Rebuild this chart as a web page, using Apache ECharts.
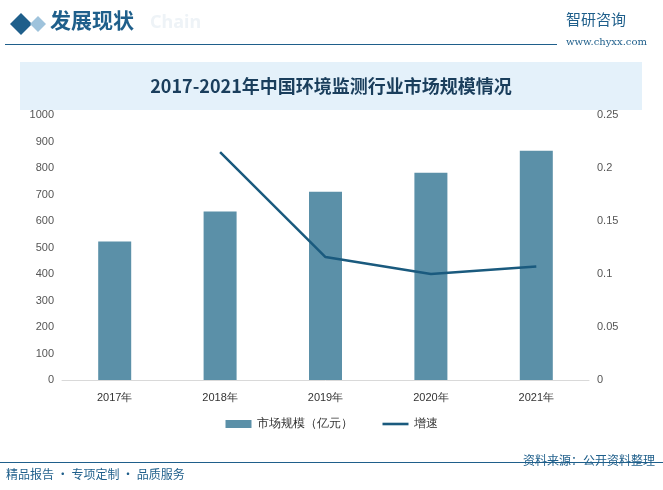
<!DOCTYPE html>
<html><head><meta charset="utf-8">
<script src="https://cdn.jsdelivr.net/npm/echarts@6/dist/echarts.min.js"></script>
<style>html,body{margin:0;padding:0;background:#fff}#c{width:663px;height:490px}</style>
</head><body><div id="c"></div>
<script>
const categories = ['2017年','2018年','2019年','2020年','2021年'];
const marketSize = [523, 636, 710, 782, 865];
const growth = [null, 0.215, 0.116, 0.100, 0.107];
const leftTicks = [0,1000,100];
const chart = echarts.init(document.getElementById('c'));
chart.setOption({
  backgroundColor:'#fff',
  graphic:[
    {type:'text',x:150,y:14,style:{text:'Chain',font:'bold 18px "Noto Sans"',fill:'#eef3f7'}},
    {type:'polygon',shape:{points:[[10,24],[21,13],[32,24],[21,35]]},style:{fill:'#1f5f8b'}},
    {type:'polygon',shape:{points:[[30,24],[38,16],[46,24],[38,32]]},style:{fill:'#9fc3dc'}},
    {type:'text',x:50,y:10,style:{text:'发展现状',font:'bold 21px "Noto Sans CJK SC"',fill:'#1f5f8b'}},
    {type:'rect',shape:{x:5,y:44,width:552,height:1},style:{fill:'#1f5f8b'}},
    {type:'text',x:566,y:12,style:{text:'智研咨询',font:'15px "Noto Sans CJK SC"',fill:'#1f5f8b'}},
    {type:'text',x:566,y:37,style:{text:'www.chyxx.com',font:'10px "DejaVu Serif"',fill:'#1f5f8b'}},
    {type:'rect',shape:{x:20,y:62,width:622,height:48},style:{fill:'#e4f1fa'}},
    {type:'text',x:331,y:86,style:{text:'2017-2021年中国环境监测行业市场规模情况',font:'bold 18px "Noto Sans CJK SC"',fill:'#1a3e5c',align:'center',verticalAlign:'middle'}},
    {type:'rect',shape:{x:0,y:462,width:663,height:1},style:{fill:'#1f5f8b'}},
    {type:'text',x:6,y:468,style:{text:'精品报告 · 专项定制 · 品质服务',font:'12px "Noto Sans CJK SC"',fill:'#1f5f8b'}},
    {type:'text',x:655,y:454,style:{text:'资料来源：公开资料整理',font:'12px "Noto Sans CJK SC"',fill:'#1f5f8b',align:'right'}}
  ],
  legend:{bottom:55,itemGap:30,textStyle:{fontSize:12,color:'#333'},data:[{name:'市场规模（亿元）',icon:'rect'},{name:'增速',icon:'path://M0,0H30V3H0Z'}],itemWidth:26,itemHeight:8},
  grid:{left:62,right:74,top:115,bottom:110},
  xAxis:{type:'category',data:categories,axisTick:{show:false},axisLine:{lineStyle:{color:'#d9d9d9'}},axisLabel:{color:'#333',fontSize:11,margin:12}},
  yAxis:[
    {type:'value',min:leftTicks[0],max:leftTicks[1],interval:leftTicks[2],splitLine:{show:false},axisLine:{show:false},axisLabel:{color:'#555',fontSize:11,formatter:v=>String(v)}},
    {type:'value',min:0,max:0.25,interval:0.05,splitLine:{show:false},axisLine:{show:false},axisLabel:{color:'#555',fontSize:11,formatter:v=>String(+v.toFixed(2))}}
  ],
  series:[
    {name:'市场规模（亿元）',type:'bar',data:marketSize,barWidth:33,itemStyle:{color:'#5b90a8'}},
    {name:'增速',type:'line',yAxisIndex:1,data:growth,symbol:'none',lineStyle:{color:'#1a5a7e',width:2.5},itemStyle:{color:'#1a5a7e'}}
  ]
});
</script></body></html>
